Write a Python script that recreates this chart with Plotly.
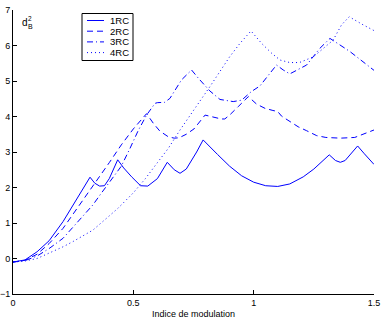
import plotly.graph_objects as go

# ---- data ----
x_1rc = [0, 0.05, 0.1, 0.15, 0.208, 0.25, 0.3, 0.32, 0.34, 0.36, 0.38, 0.4, 0.435, 0.46, 0.493, 0.53, 0.56, 0.6, 0.641,
         0.67, 0.694, 0.72, 0.763, 0.79, 0.85, 0.9, 0.95, 1.0, 1.05, 1.1, 1.15, 1.206, 1.25, 1.314, 1.34, 1.36, 1.38,
         1.432, 1.46, 1.5]
y_1rc = [-0.1, -0.04, 0.19, 0.5, 1.04, 1.52, 2.08, 2.29, 2.12, 2.04, 2.05, 2.25, 2.78, 2.55, 2.3, 2.05, 2.04, 2.25, 2.71,
         2.5, 2.4, 2.52, 3.0, 3.34, 2.93, 2.6, 2.33, 2.15, 2.05, 2.03, 2.1, 2.3, 2.52, 2.92, 2.76, 2.71, 2.76,
         3.17, 2.95, 2.65]

x_2rc = [0, 0.05, 0.1, 0.15, 0.208, 0.25, 0.3, 0.35, 0.4, 0.45, 0.5, 0.555, 0.583, 0.61, 0.645, 0.67, 0.69, 0.72,
         0.752, 0.798, 0.83, 0.865, 0.88, 0.9, 0.936, 0.978, 1.012, 1.047, 1.08, 1.1, 1.116, 1.15, 1.185, 1.22,
         1.262, 1.3, 1.36, 1.42, 1.455, 1.5]
y_2rc = [-0.1, -0.05, 0.12, 0.42, 0.85, 1.25, 1.76, 2.22, 2.7, 3.2, 3.65, 4.08, 3.81, 3.59, 3.43, 3.39, 3.4, 3.5,
         3.65, 4.04, 3.98, 3.93, 3.93, 4.04, 4.28, 4.56, 4.35, 4.23, 4.17, 4.14, 4.01, 3.87, 3.71, 3.6,
         3.46, 3.41, 3.39, 3.41, 3.5, 3.62]

x_3rc = [0, 0.05, 0.1, 0.15, 0.208, 0.25, 0.3, 0.332, 0.367, 0.4, 0.45, 0.486, 0.52, 0.555, 0.576, 0.59, 0.6, 0.63,
         0.652, 0.7, 0.742, 0.77, 0.818, 0.86, 0.915, 0.95, 0.99, 1.026, 1.068, 1.095, 1.123, 1.15, 1.22, 1.275,
         1.317, 1.4, 1.5]
y_3rc = [-0.1, -0.06, 0.07, 0.28, 0.57, 0.88, 1.27, 1.51, 1.84, 2.15, 2.6, 3.1, 3.6, 4.04, 4.23, 4.37, 4.39, 4.4,
         4.51, 5.03, 5.31, 5.08, 4.72, 4.48, 4.42, 4.46, 4.7, 4.86, 5.22, 5.45, 5.31, 5.2, 5.45, 5.92,
         6.2, 5.83, 5.3]

x_4rc = [0, 0.05, 0.1, 0.15, 0.208, 0.25, 0.3, 0.332, 0.4, 0.437, 0.5, 0.55, 0.6, 0.645, 0.694, 0.763, 0.818, 0.9,
         0.943, 0.989, 1.033, 1.075, 1.11, 1.15, 1.19, 1.248, 1.33, 1.365, 1.397, 1.45, 1.5]
y_4rc = [-0.1, -0.07, 0.0, 0.15, 0.33, 0.48, 0.67, 0.8, 1.2, 1.42, 1.85, 2.25, 2.7, 3.1, 3.62, 4.28, 4.84, 5.68,
         6.06, 6.41, 6.06, 5.78, 5.59, 5.52, 5.52, 5.68, 6.15, 6.58, 6.81, 6.6, 6.42]

series_names = ["1RC", "2RC", "3RC", "4RC"]
series_x = [x_1rc, x_2rc, x_3rc, x_4rc]
series_y = [y_1rc, y_2rc, y_3rc, y_4rc]
series_dash = ["solid", "6px,4px", "6px,3px,1px,3px", "1px,3px"]

x_ticks = [0, 0.5, 1, 1.5]
x_ticklabels = ["0", "0.5", "1", "1.5"]
y_ticks = [-1, 0, 1, 2, 3, 4, 5, 6, 7]

FONT = "Liberation Sans, Arial, Helvetica, sans-serif"
BLUE = "#0000ff"

# plot-area geometry in pixels (for paper-coordinate decorations)
W, H = 385, 321
L, R, T, B = 13, 11, 10, 27
PW, PH = W - L - R, H - T - B


def px(xp):
    return (xp - L) / PW


def py(yp):
    return (H - B - yp) / PH


fig = go.Figure()
for name, xs, ys, dash in zip(series_names, series_x, series_y, series_dash):
    fig.add_trace(go.Scatter(x=xs, y=ys, mode="lines", name=name,
                             line=dict(color=BLUE, width=1, dash=dash)))

fig.update_layout(
    width=W, height=H,
    template="none",
    paper_bgcolor="white", plot_bgcolor="white",
    margin=dict(l=L, r=R, t=T, b=B),
    font=dict(family=FONT, size=9, color="black"),
    showlegend=False,
    xaxis=dict(range=[0, 1.5], tickvals=x_ticks, ticktext=x_ticklabels,
               ticks="inside", ticklen=4, tickcolor="black", showline=True, linecolor="black",
               linewidth=1, showgrid=False, zeroline=False, automargin=False, mirror=False,
               tickfont=dict(size=9),
               title=dict(text="Indice de modulation", font=dict(size=9), standoff=3)),
    yaxis=dict(range=[-1, 7], tickvals=y_ticks,
               ticks="inside", ticklen=4, tickcolor="black", showline=True, linecolor="black",
               linewidth=1, showgrid=False, zeroline=False, automargin=False, mirror=False,
               tickfont=dict(size=9)),
)

# legend box built from layout shapes and text
fig.add_shape(type="rect", xref="paper", yref="paper",
              x0=px(82), x1=px(133), y0=py(60.5), y1=py(13.5),
              line=dict(color="black", width=1), fillcolor="white", layer="above")
row_y = [20.5, 31.2, 41.9, 52.6]
for name, dash, ry in zip(series_names, series_dash, row_y):
    fig.add_shape(type="line", xref="paper", yref="paper",
                  x0=px(87), x1=px(104), y0=py(ry), y1=py(ry),
                  line=dict(color=BLUE, width=1, dash=dash), layer="above")
    fig.add_annotation(text=name, xref="paper", yref="paper", x=px(108.5), y=py(ry),
                       showarrow=False, xanchor="left", yanchor="middle",
                       font=dict(size=9.5), borderpad=0)

# y-axis label d_B^2 drawn as stacked text
fig.add_annotation(text="d", xref="paper", yref="paper", x=px(24.5), y=py(22.5),
                   showarrow=False, font=dict(size=10), xanchor="center", yanchor="middle", borderpad=0)
fig.add_annotation(text="2", xref="paper", yref="paper", x=px(30), y=py(18.6),
                   showarrow=False, font=dict(size=6.5), xanchor="center", yanchor="middle", borderpad=0)
fig.add_annotation(text="B", xref="paper", yref="paper", x=px(30.3), y=py(26.3),
                   showarrow=False, font=dict(size=7), xanchor="center", yanchor="middle", borderpad=0)

fig.write_html("out.html", config={"displayModeBar": False},
               post_script="document.body.style.margin='0px';")
